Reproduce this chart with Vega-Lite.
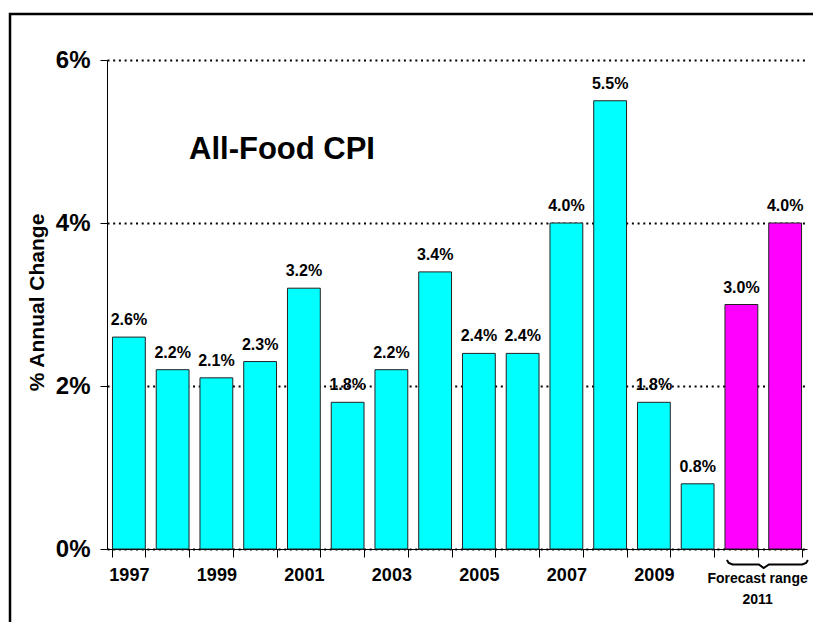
{
  "$schema": "https://vega.github.io/schema/vega-lite/v6.json",
  "width": 700,
  "height": 489,
  "autosize": "none",
  "padding": {"left": 107, "top": 60, "right": 6, "bottom": 73},
  "background": "white",
  "config": {"view": {"stroke": null}, "font": "Liberation Sans"},
  "resolve": {"scale": {"x": "independent", "y": "independent"}, "axis": {"x": "independent", "y": "independent"}},
  "layer": [
    {
      "data": {"values": [
        {"key": "1997", "value": 2.6, "kind": "actual", "label": "2.6%"},
        {"key": "1998", "value": 2.2, "kind": "actual", "label": "2.2%"},
        {"key": "1999", "value": 2.1, "kind": "actual", "label": "2.1%"},
        {"key": "2000", "value": 2.3, "kind": "actual", "label": "2.3%"},
        {"key": "2001", "value": 3.2, "kind": "actual", "label": "3.2%"},
        {"key": "2002", "value": 1.8, "kind": "actual", "label": "1.8%"},
        {"key": "2003", "value": 2.2, "kind": "actual", "label": "2.2%"},
        {"key": "2004", "value": 3.4, "kind": "actual", "label": "3.4%"},
        {"key": "2005", "value": 2.4, "kind": "actual", "label": "2.4%"},
        {"key": "2006", "value": 2.4, "kind": "actual", "label": "2.4%"},
        {"key": "2007", "value": 4.0, "kind": "actual", "label": "4.0%"},
        {"key": "2008", "value": 5.5, "kind": "actual", "label": "5.5%"},
        {"key": "2009", "value": 1.8, "kind": "actual", "label": "1.8%"},
        {"key": "2010", "value": 0.8, "kind": "actual", "label": "0.8%"},
        {"key": "2011L", "value": 3.0, "kind": "forecast", "label": "3.0%"},
        {"key": "2011H", "value": 4.0, "kind": "forecast", "label": "4.0%"}
      ]},
      "encoding": {
        "x": {
          "field": "key", "type": "nominal", "sort": null,
          "scale": {"paddingInner": 0.25, "paddingOuter": 0.125},
          "axis": {
            "title": null, "labelAngle": 0, "labelOverlap": false,
            "labelExpr": "indexof(['1997','1999','2001','2003','2005','2007','2009'], datum.label) >= 0 ? datum.label : ''",
            "tickBand": "extent", "tickSize": 8, "tickColor": "black", "domainColor": "black",
            "labelFont": "Liberation Sans", "labelFontSize": 18, "labelFontWeight": "bold",
            "labelColor": "black", "labelPadding": 9, "grid": false
          }
        },
        "y": {
          "field": "value", "type": "quantitative",
          "scale": {"domain": [0, 6], "nice": false},
          "axis": {
            "values": [0, 2, 4, 6], "labelExpr": "datum.value + '%'",
            "title": "% Annual Change", "titleFont": "Liberation Sans", "titleFontSize": 21,
            "titleFontWeight": "bold", "titleColor": "black", "titleAngle": -90,
            "titleX": -70, "titleY": 242, "titleAlign": "center", "titleBaseline": "middle",
            "labelFont": "Liberation Sans", "labelFontSize": 24, "labelFontWeight": "bold",
            "labelColor": "black", "labelPadding": 10, "tickSize": 7, "tickColor": "black",
            "domainColor": "black", "grid": true, "gridDash": [2, 3.7], "gridColor": "black",
            "gridWidth": 2, "gridOpacity": 1
          }
        }
      },
      "layer": [
        {
          "mark": {"type": "bar", "stroke": "#222222", "strokeWidth": 1},
          "encoding": {
            "color": {"field": "kind", "type": "nominal", "scale": {"domain": ["actual", "forecast"], "range": ["#00FFFF", "#FF00FF"]}, "legend": null}
          }
        },
        {
          "mark": {"type": "text", "dy": -12, "baseline": "alphabetic", "fontSize": 16, "fontWeight": "bold", "font": "Liberation Sans", "color": "black"},
          "encoding": {"text": {"field": "label"}}
        }
      ]
    },
    {
      "layer": [
        {
          "data": {"values": [{}]},
          "mark": {"type": "rect", "fill": "transparent", "stroke": "black", "strokeWidth": 2.5},
          "encoding": {
            "x": {"datum": -2.217, "type": "quantitative", "scale": {"domain": [0, 16], "nice": false, "zero": false}, "axis": null},
            "x2": {"datum": 18},
            "y": {"datum": 6.564, "type": "quantitative", "scale": {"domain": [0, 6], "nice": false}, "axis": null},
            "y2": {"datum": -1.5}
          }
        },
        {
          "data": {"values": [
            {"bx": 14.17, "by": -0.135},
            {"bx": 14.21, "by": -0.172},
            {"bx": 14.30, "by": -0.19},
            {"bx": 14.90, "by": -0.19},
            {"bx": 15.01, "by": -0.233},
            {"bx": 15.13, "by": -0.19},
            {"bx": 15.89, "by": -0.19},
            {"bx": 15.98, "by": -0.172},
            {"bx": 16.02, "by": -0.135}
          ]},
          "mark": {"type": "line", "color": "black", "strokeWidth": 2},
          "encoding": {
            "x": {"field": "bx", "type": "quantitative", "scale": {"domain": [0, 16], "nice": false, "zero": false}, "axis": null},
            "y": {"field": "by", "type": "quantitative", "scale": {"domain": [0, 6], "nice": false}, "axis": null},
            "order": {"field": "bx"}
          }
        },
        {
          "data": {"values": [{}]},
          "mark": {"type": "text", "text": ["Forecast  range", "2011"], "lineHeight": 21, "fontSize": 14, "fontWeight": "bold", "font": "Liberation Sans", "baseline": "alphabetic", "color": "black"},
          "encoding": {
            "x": {"datum": 14.87, "type": "quantitative", "scale": {"domain": [0, 16], "nice": false, "zero": false}, "axis": null},
            "y": {"datum": -0.417, "type": "quantitative", "scale": {"domain": [0, 6], "nice": false}, "axis": null}
          }
        },
        {
          "data": {"values": [{}]},
          "mark": {"type": "text", "text": "All-Food CPI", "fontSize": 31, "fontWeight": "bold", "font": "Liberation Sans", "baseline": "alphabetic", "color": "black"},
          "encoding": {
            "x": {"datum": 4.0, "type": "quantitative", "scale": {"domain": [0, 16], "nice": false, "zero": false}, "axis": null},
            "y": {"datum": 4.78, "type": "quantitative", "scale": {"domain": [0, 6], "nice": false}, "axis": null}
          }
        }
      ]
    }
  ]
}
